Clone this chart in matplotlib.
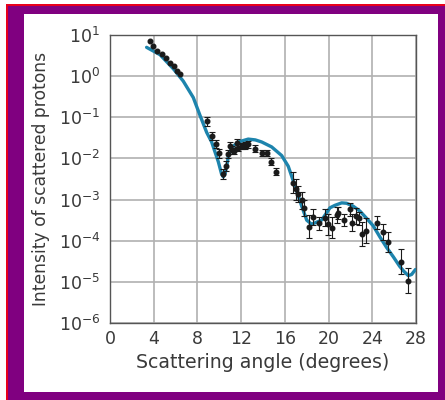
import numpy as np
import matplotlib
matplotlib.use("Agg")
import matplotlib.pyplot as plt
from matplotlib.patches import Rectangle

plt.rcParams['font.family'] = ['DejaVu Sans']
plt.rcParams['mathtext.fontset'] = 'dejavusans'

# measured points without error bars (small angles)
angle_a = [3.66, 3.96, 4.33, 4.78, 5.12, 5.49, 5.86, 6.10, 6.40]
log_int_a = [0.86, 0.74, 0.62, 0.55, 0.43, 0.33, 0.25, 0.13, 0.05]

# measured points with error bars
angle_b = [8.9, 9.3, 9.67, 9.97, 10.37, 10.61, 10.76, 10.98, 11.19, 11.37, 11.59, 11.68,
           12.05, 12.35, 12.6, 13.3, 13.88, 14.33, 14.73, 15.19, 16.71, 17.0, 17.22,
           17.54, 17.78, 18.21, 18.6, 19.15, 19.67, 19.97, 20.34, 20.73, 20.88, 21.4,
           21.95, 22.1, 22.5, 22.81, 23.03, 23.42, 24.4, 24.95, 25.4, 26.62, 27.3]
log_int_b = [-1.10, -1.45, -1.64, -1.88, -2.37, -2.19, -1.89, -1.69, -1.80, -1.82, -1.62, -1.74,
             -1.70, -1.69, -1.66, -1.76, -1.87, -1.87, -2.08, -2.32, -2.59, -2.75, -2.87,
             -3.02, -3.20, -3.66, -3.42, -3.58, -3.44, -3.60, -3.68, -3.38, -3.32, -3.50,
             -3.24, -3.56, -3.40, -3.46, -3.84, -3.76, -3.56, -3.79, -4.03, -4.51, -4.97]
err_dex_b = [0.10, 0.10, 0.10, 0.10, 0.12, 0.12, 0.10, 0.10, 0.10, 0.08, 0.10, 0.08,
             0.08, 0.08, 0.08, 0.08, 0.08, 0.08, 0.08, 0.08, 0.25, 0.25, 0.20,
             0.20, 0.20, 0.28, 0.20, 0.15, 0.20, 0.25, 0.25, 0.20, 0.15, 0.15,
             0.15, 0.20, 0.20, 0.15, 0.30, 0.30, 0.15, 0.20, 0.25, 0.30, 0.30]

# theoretical curve
curve_angle = [3.35, 4.58, 5.79, 6.70, 7.62, 8.23, 8.85, 9.3, 9.91, 10.21, 10.37, 10.52,
               10.67, 10.83, 11.13, 11.74, 12.65, 13.3, 13.88, 14.79, 15.71, 16.31, 16.93,
               17.54, 18.0, 18.45, 19.36, 20.13, 20.58, 21.2, 21.65, 22.25, 22.87, 23.49,
               24.09, 24.7, 25.3, 25.92, 26.5, 26.84, 27.3, 27.6, 27.95]
curve_log = [0.70, 0.52, 0.18, -0.12, -0.52, -0.95, -1.37, -1.60, -2.08, -2.38, -2.45, -2.38,
             -2.20, -1.95, -1.74, -1.60, -1.53, -1.55, -1.60, -1.72, -1.93, -2.19, -2.67,
             -3.16, -3.50, -3.60, -3.50, -3.20, -3.14, -3.08, -3.09, -3.16, -3.28, -3.46,
             -3.64, -3.91, -4.16, -4.39, -4.62, -4.73, -4.85, -4.82, -4.70]

xticks = [0, 4, 8, 12, 16, 20, 24, 28]
ydecades = [-6, -5, -4, -3, -2, -1, 0, 1]

W, H = 445, 400
fig = plt.figure(figsize=(W / 100, H / 100), dpi=100, facecolor='white')

def px_rect(x0, y0, x1, y1, color):
    fig.patches.append(Rectangle((x0 / W, 1 - y1 / H), (x1 - x0) / W, (y1 - y0) / H,
                                 transform=fig.transFigure, facecolor=color,
                                 edgecolor='none', zorder=-10))

px_rect(6, 4, 445, 400, '#e8001c')
px_rect(8, 6, 445, 400, '#800080')
px_rect(24, 14, 438, 392, 'white')

ax = fig.add_axes([110 / W, 1 - 323 / H, (416 - 110) / W, (323 - 35) / H])
ax.set_yscale('log')
ax.set_xlim(0, 28)
ax.set_ylim(1e-6, 1e1)

ax.set_xticks(xticks)
ax.set_xticklabels([str(t) for t in xticks])
ax.set_yticks([10.0 ** d for d in ydecades])
ax.set_yticklabels([r'$\mathregular{10^{%d}}$' % d if d >= 0 else r'$\mathregular{10^{-%d}}$' % (-d) for d in ydecades])
ax.yaxis.set_minor_locator(matplotlib.ticker.NullLocator())
ax.tick_params(length=0, labelsize=12.5, colors='#3a3a3a')
ax.tick_params(axis='x', pad=5)
ax.tick_params(axis='y', pad=7)

ax.grid(True, color='#b0b0b0', linewidth=1.2)
ax.set_axisbelow(True)
for s in ax.spines.values():
    s.set_color('#555555')
    s.set_linewidth(1.0)

ca = np.array(curve_angle)
cy = 10.0 ** np.array(curve_log)
ax.plot(ca, cy, color='#1d84ad', linewidth=2.4, zorder=3, solid_capstyle='round')

ax.plot(angle_a, 10.0 ** np.array(log_int_a), 'o', color='#1a1a1a', markersize=3.3, zorder=4)

yb = 10.0 ** np.array(log_int_b)
eb = np.array(err_dex_b)
yerr = [yb - yb * 10.0 ** (-eb), yb * 10.0 ** eb - yb]
ax.errorbar(angle_b, yb, yerr=yerr, fmt='o', color='#1a1a1a', markersize=3.3,
            elinewidth=0.8, capsize=2.2, capthick=0.8, zorder=4)

ax.set_xlabel('Scattering angle (degrees)', fontsize=13.6, color='#3a3a3a', labelpad=4)
ax.set_ylabel('Intensity of scattered protons', fontsize=12.3, color='#3a3a3a', labelpad=6)

fig.savefig('out.png', dpi=100, facecolor='white')
